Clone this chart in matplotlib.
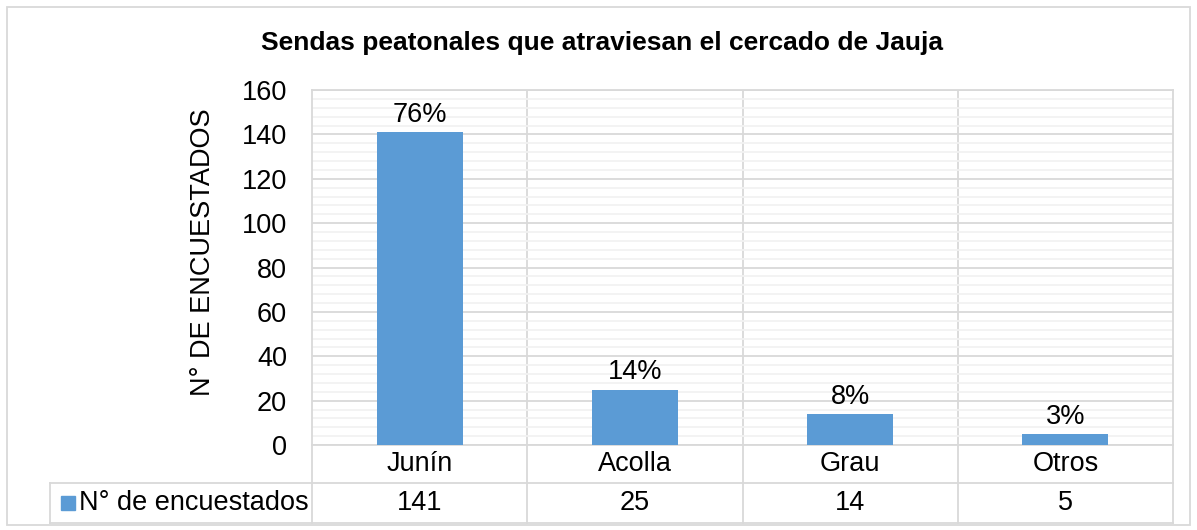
import matplotlib.pyplot as plt
from matplotlib.patches import Rectangle
from matplotlib.transforms import blended_transform_factory

plt.rcParams["font.family"] = ["Liberation Sans", "DejaVu Sans"]

categories = ["Junín", "Acolla", "Grau", "Otros"]
values = [141, 25, 14, 5]
percent_labels = ["76%", "14%", "8%", "3%"]
series_name = "N° de encuestados"

bar_color = "#5B9BD5"
grid_color = "#D9D9D9"
fs = 19.5

fig = plt.figure(figsize=(11.97, 5.30), dpi=100)
ax = fig.add_axes([312 / 1197, 1 - 445 / 530, 861 / 1197, 355 / 530])

x = [i + 0.5 for i in range(len(categories))]
ax.bar(x, values, width=0.4, color=bar_color, zorder=3)

for xi, v, lab in zip(x, values, percent_labels):
    ax.annotate(lab, (xi, v), xytext=(0, 3), textcoords="offset points",
                ha="center", va="bottom", fontsize=fs)

ax.set_xlim(0, 4)
ax.set_ylim(0, 160)
ax.set_yticks(range(0, 161, 20))
ax.set_yticks(range(0, 161, 4), minor=True)
ax.set_xticks([])
ax.tick_params(axis="y", which="both", length=0, labelsize=fs, pad=18)
ax.grid(axis="y", which="major", color=grid_color, linewidth=1.3, zorder=0)
ax.grid(axis="y", which="minor", color="#F2F2F2", linewidth=1.3, zorder=0)
for xv in range(1, 4):
    ax.axvline(xv, color=grid_color, linewidth=1.3, zorder=1)
for s in ax.spines.values():
    s.set_color(grid_color)
    s.set_linewidth(1.3)

ax.set_ylabel("N° DE ENCUESTADOS", fontsize=fs)
ax.yaxis.set_label_coords(-0.1115, 0.544)
fig.text(602 / 1197, 1 - 43 / 530, "Sendas peatonales que atraviesan el cercado de Jauja",
         ha="center", va="center", fontsize=19, fontweight="bold")

# data table under the plot
tr = blended_transform_factory(ax.transData, ax.transAxes)
row1 = -38 / 355
row2 = -78 / 355
left = (50 - 312) / (861 / 4)
lw = 1.3
for xv in range(0, 5):
    ax.plot([xv, xv], [0, row2], color=grid_color, lw=lw, transform=tr, clip_on=False)
ax.plot([0, 4], [row1, row1], color=grid_color, lw=lw, transform=tr, clip_on=False)
ax.plot([left, 0], [row1, row1], color=grid_color, lw=lw, transform=tr, clip_on=False)
ax.plot([left, 4], [row2, row2], color=grid_color, lw=lw, transform=tr, clip_on=False)
ax.plot([left, left], [row1, row2], color=grid_color, lw=lw, transform=tr, clip_on=False)

for xi, cat, v in zip(x, categories, values):
    ax.text(xi, row1 / 2, cat, ha="center", va="center", fontsize=fs, transform=tr)
    ax.text(xi, (row1 + row2) / 2, str(v), ha="center", va="center", fontsize=fs, transform=tr)

fig.patches.append(Rectangle((61 / 1197, 1 - 510 / 530), 14 / 1197, 14 / 530,
                             transform=fig.transFigure, color=bar_color))
fig.text(79 / 1197, 1 - 503 / 530, series_name, ha="left", va="center", fontsize=fs)

fig.patches.append(Rectangle((7 / 1197, 5 / 530), 1183 / 1197, 518 / 530,
                             transform=fig.transFigure, fill=False,
                             edgecolor=grid_color, linewidth=1.3))

plt.savefig("out.png")
plt.close()
